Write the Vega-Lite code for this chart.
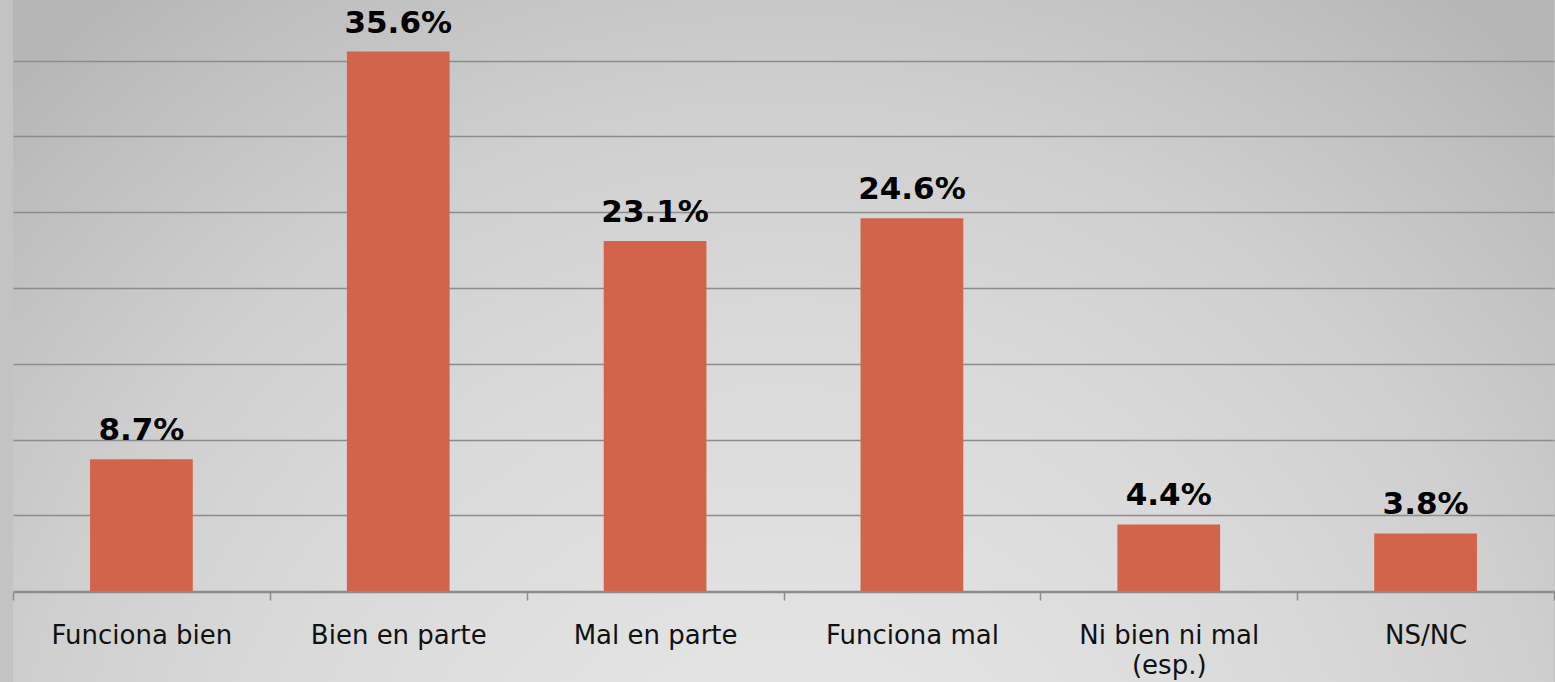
{
  "$schema": "https://vega.github.io/schema/vega-lite/v6.json",
  "width": 1555,
  "height": 682,
  "autosize": {"type": "fit", "contains": "padding"},
  "padding": {"left": 12, "top": 0, "right": 0, "bottom": 0},
  "background": "#c3c3c3",
  "config": {
    "font": "DejaVu Sans",
    "view": {
      "stroke": null,
      "fill": {
        "gradient": "radial",
        "x1": 0.5, "y1": 0.85, "r1": 0,
        "x2": 0.5, "y2": 0.85, "r2": 0.72,
        "stops": [
          {"offset": 0, "color": "#e8e8e8"},
          {"offset": 0.2, "color": "#e3e3e3"},
          {"offset": 0.5, "color": "#d9d9d9"},
          {"offset": 0.7, "color": "#cfcfcf"},
          {"offset": 0.8, "color": "#c7c7c7"},
          {"offset": 0.9, "color": "#bfbfbf"},
          {"offset": 1, "color": "#b6b6b6"}
        ]
      }
    }
  },
  "data": {
    "values": [
      {"categoria": "Funciona bien", "valor": 0.087},
      {"categoria": "Bien en parte", "valor": 0.356},
      {"categoria": "Mal en parte", "valor": 0.231},
      {"categoria": "Funciona mal", "valor": 0.246},
      {"categoria": "Ni bien ni mal (esp.)", "valor": 0.044},
      {"categoria": "NS/NC", "valor": 0.038}
    ]
  },
  "encoding": {
    "x": {
      "field": "categoria",
      "type": "nominal",
      "sort": null,
      "scale": {"paddingInner": 0, "paddingOuter": 0},
      "axis": {
        "title": null,
        "orient": "bottom",
        "offset": -90,
        "labelAngle": 0,
        "tickBand": "extent",
        "domainColor": "#8c8c8c",
        "domainWidth": 1.5,
        "tickColor": "#8c8c8c",
        "tickWidth": 1.5,
        "tickSize": 8,
        "labelFont": "DejaVu Sans",
        "labelFontSize": 26,
        "labelColor": "#111111",
        "labelPadding": 22,
        "labelLimit": 0,
        "labelLineHeight": 30,
        "labelExpr": "datum.value == 'Ni bien ni mal (esp.)' ? ['Ni bien ni mal', '(esp.)'] : datum.label"
      }
    },
    "y": {
      "field": "valor",
      "type": "quantitative",
      "scale": {"domain": [-0.06, 0.39], "nice": false, "zero": true},
      "axis": {
        "title": null,
        "labels": false,
        "ticks": false,
        "domain": false,
        "values": [0, 0.05, 0.1, 0.15, 0.2, 0.25, 0.3, 0.35],
        "gridColor": "#8c8c8c",
        "gridWidth": 1.5
      }
    }
  },
  "layer": [
    {"mark": {"type": "bar", "color": "#d2644b", "width": {"band": 0.4}}},
    {
      "mark": {
        "type": "text",
        "dy": -19,
        "baseline": "alphabetic",
        "fontSize": 31,
        "fontWeight": "bold",
        "font": "DejaVu Sans",
        "color": "#000000"
      },
      "encoding": {"text": {"field": "valor", "format": ".1%"}}
    }
  ]
}
